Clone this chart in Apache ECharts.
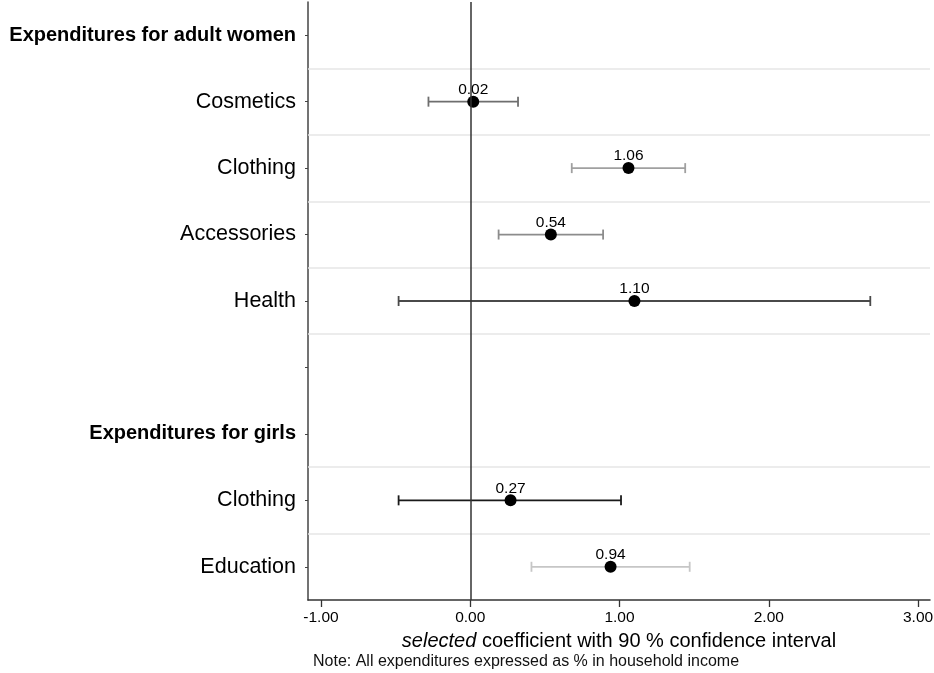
<!DOCTYPE html>
<html>
<head>
<meta charset="utf-8">
<script src="https://cdn.jsdelivr.net/npm/echarts@6/dist/echarts.min.js"></script>
<style>
  html, body { margin: 0; padding: 0; background: #fff; }
  #chart { width: 934px; height: 673px; }
</style>
</head>
<body>
<div id="chart"></div>
<script>
// rows of the y axis, top to bottom (headers and a blank spacer included)
const rowLabels = ['Expenditures for adult women', 'Cosmetics', 'Clothing', 'Accessories', 'Health', '', 'Expenditures for girls', 'Clothing', 'Education']
const headerRows = [0, 6]

// estimates, one per plotted row
const pointRows = [1, 2, 3, 4, 7, 8]
const coefs = [0.02, 1.06, 0.54, 1.10, 0.27, 0.94]
const ciLow = [-0.28, 0.68, 0.19, -0.48, -0.48, 0.41]
const ciHigh = [0.32, 1.44, 0.89, 2.68, 1.01, 1.47]
const ciColors = ['#6e6e6e', '#a0a0a0', '#8c8c8c', '#4a4a4a', '#1a1a1a', '#c6c6c6']

// x ticks
const xTicks = [-1, 0, 1, 2, 3]
// row boundaries that get a light separator line
const separatorRows = [1, 2, 3, 4, 5, 7, 8]

const FONT = '"Liberation Sans", Arial, sans-serif'

const chart = echarts.init(document.getElementById('chart'))

chart.setOption({
  animation: false,
  textStyle: { fontFamily: FONT },
  grid: { left: 308, right: 4, top: 2, bottom: 73, outerBoundsMode: 'none' },
  xAxis: {
    type: 'value',
    min: -1.087,
    max: 3.08,
    axisLine: { onZero: false, lineStyle: { color: '#333', width: 1.5 } },
    axisTick: { show: true, customValues: xTicks, length: 7, lineStyle: { color: '#333', width: 1.3 } },
    axisLabel: {
      customValues: xTicks,
      formatter: v => v.toFixed(2),
      fontSize: 15.5,
      color: '#000',
      margin: 10,
      fontFamily: FONT
    },
    splitLine: { show: false },
    name: '{i|selected} coefficient with 90 % confidence interval',
    nameLocation: 'middle',
    nameGap: 31,
    nameTextStyle: {
      fontSize: 20,
      color: '#000',
      fontFamily: FONT,
      rich: { i: { fontStyle: 'italic', fontSize: 20, color: '#000', fontFamily: FONT } }
    }
  },
  yAxis: [
    {
      type: 'category',
      inverse: true,
      data: rowLabels,
      axisLine: { onZero: false, lineStyle: { color: '#444', width: 1.5 } },
      axisTick: { show: true, alignWithLabel: true, interval: 0, length: 3, lineStyle: { color: '#444' } },
      axisLabel: {
        interval: 0,
        margin: 12,
        fontSize: 21.5,
        color: '#000',
        fontFamily: FONT,
        formatter: (v, i) => headerRows.includes(i) ? '{h|' + v + '}' : v,
        rich: { h: { fontWeight: 'bold', fontSize: 20, color: '#000', fontFamily: FONT } }
      },
      splitLine: { show: false }
    },
    {
      // helper axis for row boundaries
      type: 'value',
      inverse: true,
      min: 0,
      max: rowLabels.length,
      show: false
    }
  ],
  series: [
    {
      type: 'scatter',
      xAxisIndex: 0,
      yAxisIndex: 1,
      data: [],
      silent: true,
      markLine: {
        silent: true,
        symbol: 'none',
        label: { show: false },
        lineStyle: { color: '#e6e6e6', width: 1.5, type: 'solid' },
        data: separatorRows.map(r => ({ yAxis: r }))
      },
      z: 1
    },
    {
      type: 'scatter',
      xAxisIndex: 0,
      yAxisIndex: 1,
      data: [],
      silent: true,
      markLine: {
        silent: true,
        symbol: 'none',
        label: { show: false },
        lineStyle: { color: '#333', width: 1.5, type: 'solid' },
        data: [{ xAxis: 0 }]
      },
      z: 2
    },
    {
      type: 'custom',
      yAxisIndex: 0,
      z: 3,
      data: pointRows.map((r, i) => [r, ciLow[i], ciHigh[i]]),
      encode: { x: [1, 2], y: 0 },
      renderItem: (params, api) => {
        const row = api.value(0)
        const lo = api.coord([api.value(1), row])
        const hi = api.coord([api.value(2), row])
        const cap = 5
        const style = { stroke: ciColors[params.dataIndex], lineWidth: 1.8 }
        return {
          type: 'group',
          children: [
            { type: 'line', shape: { x1: lo[0], y1: lo[1], x2: hi[0], y2: hi[1] }, style },
            { type: 'line', shape: { x1: lo[0], y1: lo[1] - cap, x2: lo[0], y2: lo[1] + cap }, style },
            { type: 'line', shape: { x1: hi[0], y1: hi[1] - cap, x2: hi[0], y2: hi[1] + cap }, style }
          ]
        }
      }
    },
    {
      type: 'scatter',
      yAxisIndex: 0,
      z: 4,
      symbolSize: 12,
      itemStyle: { color: '#000', opacity: 1 },
      data: pointRows.map((r, i) => [coefs[i], r]),
      label: {
        show: true,
        position: 'top',
        distance: 0,
        offset: [0, 2],
        fontSize: 15.5,
        color: '#000',
        fontFamily: FONT,
        formatter: p => p.value[0].toFixed(2)
      }
    }
  ],
  graphic: [
    {
      type: 'text',
      left: 313,
      top: 654,
      style: {
        text: 'Note: All expenditures expressed as % in household income',
        fontSize: 16,
        fill: '#111',
        fontFamily: FONT
      }
    }
  ]
})
</script>
</body>
</html>
